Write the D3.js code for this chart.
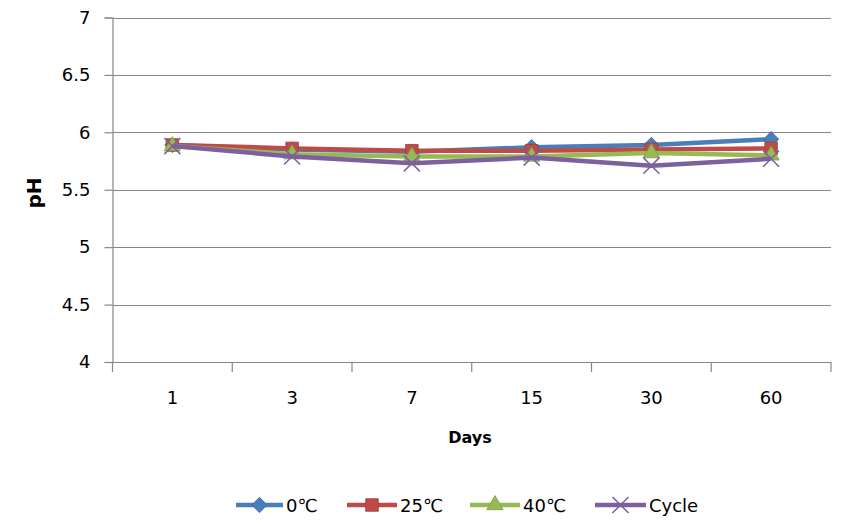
<!DOCTYPE html>
<html>
<head>
<meta charset="utf-8">
<script src="https://cdn.jsdelivr.net/npm/d3@7"></script>
<style>
  html, body { margin: 0; padding: 0; background: #fff; }
  svg { display: block; }
  text { font-family: "DejaVu Sans", Verdana, sans-serif; fill: #000; }
</style>
</head>
<body>
<svg id="chart" width="852" height="526"></svg>
<script>
// ---- data ----
const categories = ["1", "3", "7", "15", "30", "60"];
const seriesNames = ["0\u2103", "25\u2103", "40\u2103", "Cycle"];
const values0C    = [5.89, 5.85, 5.83, 5.87, 5.89, 5.94];
const values25C   = [5.89, 5.86, 5.84, 5.84, 5.85, 5.86];
const values40C   = [5.88, 5.81, 5.79, 5.79, 5.82, 5.80];
const valuesCycle = [5.88, 5.79, 5.73, 5.78, 5.71, 5.77];
const yTicks = [4, 4.5, 5, 5.5, 6, 6.5, 7];
const xTitle = "Days";
const yTitle = "pH";

// ---- styles ----
const colors  = ["#4A7EBB", "#BE4B48", "#98B954", "#7D60A0"];
const strokes = ["#3A6699", "#A03C3A", "#7F9C44", "#664D86"];
const symbols = [d3.symbolDiamond2, d3.symbolSquare2, d3.symbolTriangle2, d3.symbolX];

const series = [values0C, values25C, values40C, valuesCycle].map((v, i) => ({
  name: seriesNames[i], values: v, color: colors[i], stroke: strokes[i], symbol: symbols[i]
}));

const svg = d3.select("#chart");
const pLeft = 112.5, pRight = 831, pTop = 17.5, pBottom = 362;

const x = d3.scaleBand().domain(categories).range([pLeft, pRight]).paddingInner(0).paddingOuter(0);
const y = d3.scaleLinear().domain([4, 7]).range([pBottom, pTop]);

// gridlines
svg.append("g").selectAll("line").data(yTicks.filter(t => t !== 4)).join("line")
  .attr("x1", pLeft).attr("x2", pRight)
  .attr("y1", d => Math.round(y(d)) + 0.5).attr("y2", d => Math.round(y(d)) + 0.5)
  .attr("stroke", "#868686").attr("stroke-width", 1.2);

// y axis
const yAxis = d3.axisLeft(y).tickValues(yTicks).tickSize(8).tickPadding(14)
  .tickFormat(d => String(d));
const gy = svg.append("g").attr("transform", `translate(${pLeft},0)`).call(yAxis);
gy.select(".domain").attr("stroke", "#868686").attr("stroke-width", 1.2);
gy.selectAll(".tick line").attr("stroke", "#868686").attr("stroke-width", 1.2);
gy.selectAll(".tick text").attr("font-size", 18).attr("font-family", "DejaVu Sans").attr("fill", "#000");

// x axis (Excel style: ticks between categories)
const gx = svg.append("g");
gx.append("line").attr("x1", pLeft).attr("x2", pRight)
  .attr("y1", pBottom + 0.5).attr("y2", pBottom + 0.5)
  .attr("stroke", "#868686").attr("stroke-width", 1.2);
const edges = categories.map(c => x(c)).concat([x(categories[categories.length - 1]) + x.bandwidth()]);
gx.selectAll("line.tk").data(edges).join("line").attr("class", "tk")
  .attr("x1", d => d).attr("x2", d => d)
  .attr("y1", pBottom).attr("y2", pBottom + 10)
  .attr("stroke", "#868686").attr("stroke-width", 1.2);
gx.selectAll("text").data(categories).join("text")
  .attr("x", d => x(d) + x.bandwidth() / 2).attr("y", 404)
  .attr("text-anchor", "middle").attr("font-size", 18).text(d => d);

// axis titles
svg.append("text").attr("x", 470).attr("y", 443).attr("text-anchor", "middle")
  .attr("font-size", 16).attr("font-weight", "bold").text(xTitle);
svg.append("text").attr("transform", "translate(41,193) rotate(-90)")
  .attr("text-anchor", "middle").attr("font-size", 20).attr("font-weight", "bold").text(yTitle);

// series
const cx = c => x(c) + x.bandwidth() / 2;
const line = d3.line().x((d, i) => cx(categories[i])).y(d => y(d));
const symSize = [150, 200, 190, 170];

series.forEach((s, si) => {
  const g = svg.append("g");
  g.append("path").datum(s.values).attr("d", line)
    .attr("fill", "none").attr("stroke", s.color).attr("stroke-width", 4.5)
    .attr("stroke-linejoin", "round");
  g.selectAll("path.m").data(s.values).join("path").attr("class", "m")
    .attr("transform", (d, i) => `translate(${cx(categories[i])},${y(d)})`)
    .attr("d", d3.symbol(s.symbol, symSize[si]))
    .attr("fill", si === 3 ? "none" : s.color)
    .attr("stroke", si === 3 ? s.color : s.stroke)
    .attr("stroke-width", si === 3 ? 1.5 : 0.8);
});

// legend
const legendItems = [
  { lx: 236, tx: 286 },
  { lx: 347, tx: 400 },
  { lx: 470, tx: 523 },
  { lx: 595, tx: 649 }
];
const ly = 505;
const lg = svg.append("g");
series.forEach((s, i) => {
  const it = legendItems[i];
  lg.append("line").attr("x1", it.lx).attr("x2", it.tx - 3)
    .attr("y1", ly).attr("y2", ly)
    .attr("stroke", s.color).attr("stroke-width", 4.5);
  lg.append("path")
    .attr("transform", `translate(${(it.lx + it.tx - 3) / 2},${ly})`)
    .attr("d", d3.symbol(s.symbol, symSize[i]))
    .attr("fill", i === 3 ? "none" : s.color)
    .attr("stroke", i === 3 ? s.color : s.stroke)
    .attr("stroke-width", i === 3 ? 1.5 : 0.8);
  lg.append("text").attr("x", it.tx).attr("y", ly + 6.5)
    .attr("font-size", 18).text(s.name);
});
</script>
</body>
</html>
